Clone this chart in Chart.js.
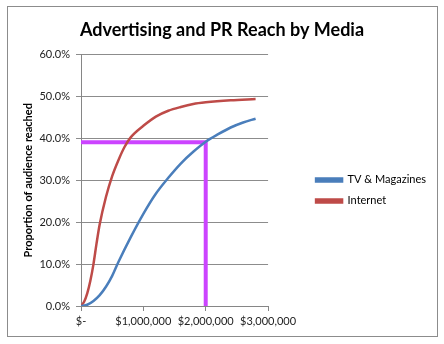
<!DOCTYPE html>
<html lang="en">
<head>
<meta charset="UTF-8">
<title>Advertising and PR Reach by Media</title>
<script src="https://cdn.jsdelivr.net/npm/chart.js@4"></script>
<style>
  body { margin: 0; background: #fff; }
  #wrap { position: relative; width: 444px; height: 344px; }
  #frame { position: absolute; left: 7px; top: 6px; width: 429px; height: 329px; border: 1px solid #8c8c8c; pointer-events: none; }
</style>
</head>
<body>
<div id="wrap">
  <canvas id="chart" width="444" height="344"></canvas>
  <div id="frame"></div>
</div>
<script>
// spend ($) and reach (%)
const tvSpend = [0, 100000, 200000, 300000, 400000, 500000, 600000, 800000, 1000000, 1200000, 1400000, 1600000, 1800000, 2000000, 2200000, 2400000, 2600000, 2800000];
const tvReach = [0, 0.3, 1.2, 2.6, 4.6, 7.2, 10.5, 16.5, 22.0, 26.8, 30.6, 34.0, 36.8, 39.2, 41.0, 42.6, 43.8, 44.7];

const netSpend = [0, 50000, 100000, 150000, 200000, 250000, 300000, 400000, 500000, 600000, 700000, 800000, 1000000, 1200000, 1400000, 1600000, 1800000, 2000000, 2400000, 2800000];
const netReach = [0, 1.0, 3.0, 6.0, 10.0, 15.0, 19.5, 26.0, 31.0, 34.8, 38.0, 40.3, 43.0, 45.2, 46.6, 47.5, 48.2, 48.6, 49.1, 49.4];

// the magenta guide: $2,000,000 gives about 39% reach
const guideSpend = 2000000;
const guideReach = 39.1;

const xTicks = [0, 1000000, 2000000, 3000000];
const yTicks = [0, 10, 20, 30, 40, 50, 60];

const toPoints = (xs, ys) => xs.map((x, i) => ({ x: x, y: ys[i] }));

const FONT = 'Lato, "Liberation Sans", sans-serif';

new Chart(document.getElementById('chart'), {
    type: 'line',
    data: {
        datasets: [
            {
                label: 'TV & Magazines',
                data: toPoints(tvSpend, tvReach),
                borderColor: '#4a7ebb',
                backgroundColor: '#4a7ebb',
                borderWidth: 2.5,
                pointRadius: 0,
                cubicInterpolationMode: 'monotone'
            },
            {
                label: 'Internet',
                data: toPoints(netSpend, netReach),
                borderColor: '#be4b48',
                backgroundColor: '#be4b48',
                borderWidth: 2.5,
                pointRadius: 0,
                cubicInterpolationMode: 'monotone'
            },
            {
                label: '',
                data: [{ x: 0, y: guideReach }, { x: guideSpend, y: guideReach }, { x: guideSpend, y: 0 }],
                borderColor: '#cc44ff',
                borderWidth: 4,
                pointRadius: 0,
                tension: 0
            }
        ]
    },
    options: {
        responsive: false,
        animation: false,
        layout: { padding: { left: 8, right: 8, top: 6, bottom: 8 } },
        plugins: {
            title: {
                display: true,
                text: 'Advertising and PR Reach by Media',
                color: '#000',
                font: { family: FONT, size: 18, weight: 'bold' },
                padding: { top: 13, bottom: 14 }
            },
            legend: {
                position: 'right',
                fullSize: false,
                maxWidth: 220,
                // empty title only used to push the items down a little
                title: { display: true, text: '', font: { size: 1 }, padding: { top: 19, bottom: 0 } },
                labels: {
                    filter: item => item.text !== '',
                    color: '#000',
                    font: { family: FONT, size: 11 },
                    boxWidth: 26,
                    boxHeight: 3,
                    padding: 10
                }
            },
            tooltip: { enabled: false }
        },
        scales: {
            x: {
                type: 'linear',
                min: 0,
                max: 3000000,
                afterBuildTicks: s => { s.ticks = xTicks.map(v => ({ value: v })); },
                afterFit: s => { s.height = 30; },
                ticks: {
                    color: '#222',
                    font: { family: FONT, size: 11 },
                    padding: 4,
                    maxRotation: 0,
                    callback: v => v === 0 ? '$-' : '$' + v.toLocaleString('en-US')
                },
                grid: { drawOnChartArea: false, tickLength: 5, color: '#868686' },
                border: { color: '#868686' }
            },
            y: {
                min: 0,
                max: 60,
                afterBuildTicks: s => { s.ticks = yTicks.map(v => ({ value: v })); },
                afterFit: s => { s.width = 73; },
                ticks: {
                    color: '#222',
                    font: { family: FONT, size: 11 },
                    padding: 6,
                    callback: v => v.toFixed(1) + '%'
                },
                grid: { color: '#8c8c8c', tickLength: 5 },
                border: { color: '#868686' },
                title: {
                    display: true,
                    text: 'Proportion of audience reached',
                    color: '#000',
                    font: { family: FONT, size: 11, weight: 'bold' },
                    padding: { top: 14, bottom: 0 }
                }
            },
            gap: {
                position: 'right',
                display: true,
                grid: { display: false },
                border: { display: false },
                ticks: { display: false },
                afterFit: s => { s.width = 38; }
            }
        }
    }
});
</script>
</body>
</html>
